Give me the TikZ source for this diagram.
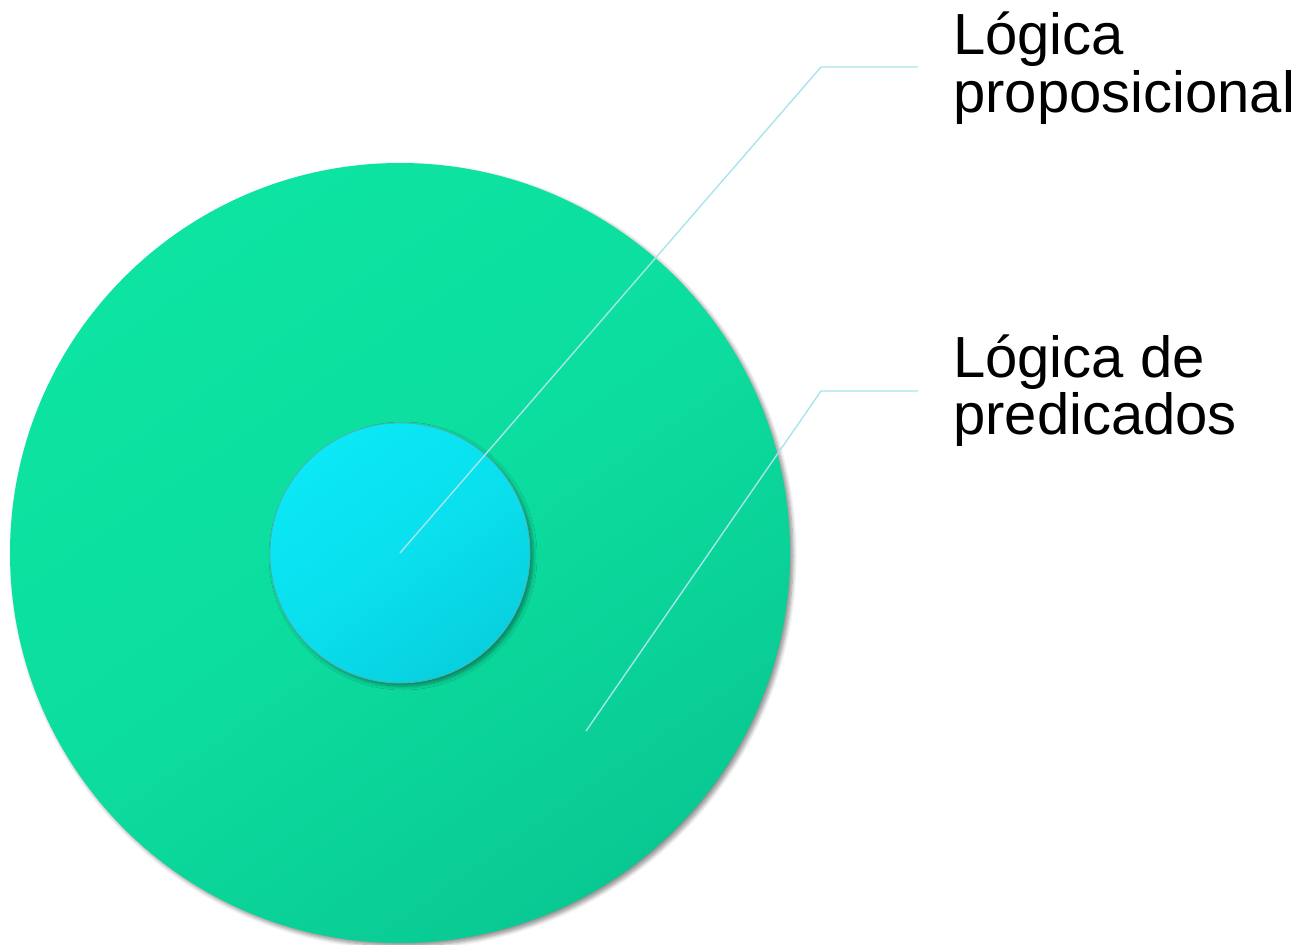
\documentclass[tikz,border=0pt]{standalone}
\usepackage{fontspec}
\setmainfont{Liberation Sans}
\usetikzlibrary{shadows.blur}
\definecolor{greenlight}{HTML}{0DE4A2}
\definecolor{greendark}{HTML}{09C993}
\definecolor{cyanlight}{HTML}{0BE8F6}
\definecolor{cyandark}{HTML}{08D0DE}
\definecolor{cyanrim}{HTML}{0A8C96}
\definecolor{leader}{HTML}{A8E4EC}
\tikzset{
  disc/.style={circle, inner sep=0pt, draw=none},
  outerdisc/.style={disc, minimum size=780pt,
    top color=greenlight, bottom color=greendark, middle color=greenlight!75!greendark,
    shading angle=35,
    blur shadow={shadow xshift=3pt, shadow yshift=-3pt, shadow blur steps=6,
      shadow blur radius=4pt, shadow opacity=45}},
  innerdisc/.style={disc, minimum size=260pt,
    top color=cyanlight, bottom color=cyandark, middle color=cyanlight!65!cyandark,
    shading angle=35,
    draw=cyanrim!70, line width=0.8pt,
    blur shadow={shadow xshift=3pt, shadow yshift=-3pt, shadow blur steps=6,
      shadow blur radius=4pt, shadow opacity=40}},
  leaderline/.style={draw=leader, line width=1.4pt},
  caption/.style={anchor=base west, inner sep=0pt, font=\fontsize{58}{60}\selectfont, text=black}
}
\begin{document}
\begin{tikzpicture}[x=1pt, y=-1pt]
  \useasboundingbox (0,0) rectangle (1302,945);
  % nested discs
  \node[outerdisc] (outer) at (400,553) {};
  \node[innerdisc] (inner) at (400,553) {};
  % leader line anchors
  \coordinate (elbowA) at (821,67);
  \coordinate (endA) at (918,67);
  \coordinate (startB) at (586,731);
  \coordinate (elbowB) at (821,391);
  \coordinate (endB) at (918,391);
  \draw[leaderline] (inner.center) -- (elbowA) -- (endA);
  \draw[leaderline] (startB) -- (elbowB) -- (endB);
  % captions
  \node[caption] (capA1) at (953,54) {Lógica};
  \node[caption] (capA2) at (953,112) {proposicional};
  \node[caption] (capB1) at (953,377) {Lógica de};
  \node[caption] (capB2) at (953,434) {predicados};
\end{tikzpicture}
\end{document}
